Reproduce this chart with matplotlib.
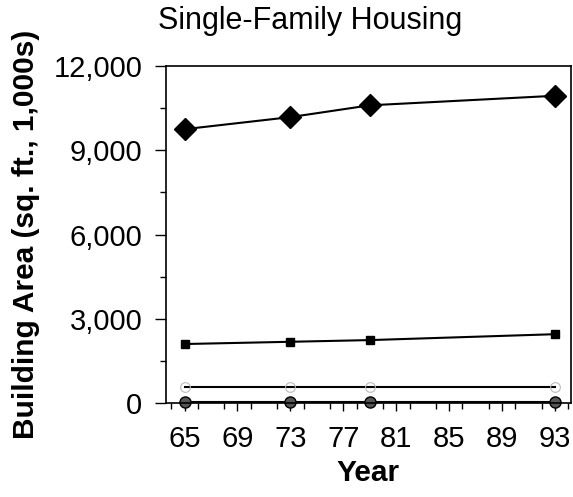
import matplotlib.pyplot as plt
from matplotlib.ticker import MultipleLocator, FuncFormatter

plt.rcParams['font.family'] = ['Liberation Sans', 'DejaVu Sans']

years = [65, 73, 79, 93]
diamond_vals = [9750, 10180, 10600, 10940]
square_vals = [2100, 2180, 2240, 2450]
upper_flat = [580, 580, 580, 580]
lower_flat = [50, 50, 50, 50]

fig = plt.figure(figsize=(5.73, 4.97), dpi=100)
ax = fig.add_axes([166/573, 1 - 403/497, (571-166)/573, (403-66)/497])

ax.plot(years, diamond_vals, color='black', lw=1.5, marker='D', markersize=11,
        markerfacecolor='black')
ax.plot(years, square_vals, color='black', lw=1.5, marker='s', markersize=6)
ax.plot(years, upper_flat, color='black', lw=1.5, marker='o', markersize=7,
        markerfacecolor='none', markeredgecolor='#bbbbbb', markeredgewidth=0.8)
ax.plot(years, lower_flat, color='black', lw=1.5, marker='o', markersize=8,
        markerfacecolor='#555555', markeredgecolor='black', clip_on=False)

ax.set_xlim(63.6, 94.2)
ax.set_ylim(0, 12000)
ax.set_xticks([65, 69, 73, 77, 81, 85, 89, 93])
ax.xaxis.set_minor_locator(MultipleLocator(2))
ax.yaxis.set_major_locator(MultipleLocator(3000))
ax.yaxis.set_minor_locator(MultipleLocator(1500))
ax.yaxis.set_major_formatter(FuncFormatter(lambda v, p: f'{int(v):,}'))
ax.tick_params(axis='both', which='major', labelsize=21, width=1, direction='out')
ax.tick_params(axis='y', which='major', length=8, pad=9)
ax.tick_params(axis='x', which='major', length=6, pad=10)
ax.tick_params(axis='both', which='minor', length=4, width=1, direction='out')

for s in ax.spines.values():
    s.set_linewidth(1.2)

ax.set_xlabel('Year', fontsize=21.5, fontweight='bold', labelpad=4)
ax.set_ylabel('Building Area (sq. ft., 1,000s)', fontsize=21.5, fontweight='bold', labelpad=10)
fig.text(310/573, 1 - 21/497, 'Single-Family Housing', fontsize=22,
         ha='center', va='center')

fig.savefig('out.png', dpi=100)
